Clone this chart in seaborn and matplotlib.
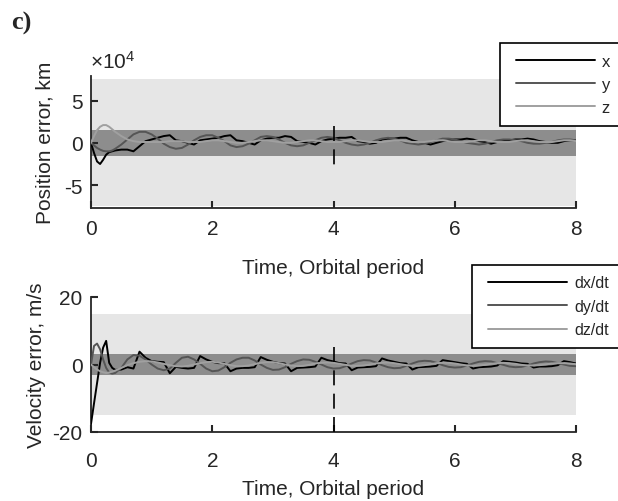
import numpy as np
import pandas as pd
import matplotlib
matplotlib.use("Agg")
import matplotlib.pyplot as plt
from matplotlib.ticker import FuncFormatter
from matplotlib.lines import Line2D
from matplotlib.legend_handler import HandlerLine2D
import seaborn as sns

# ---------------- data ----------------
times = [0.0, 0.05, 0.1, 0.15, 0.2, 0.25, 0.3, 0.35, 0.4,
         0.5, 0.6, 0.7, 0.8, 0.9, 1.0, 1.1, 1.2, 1.3, 1.4,
         1.5, 1.6, 1.7, 1.8, 1.9, 2.0, 2.1, 2.2, 2.3, 2.4,
         2.5, 2.6, 2.7, 2.8, 2.9, 3.0, 3.1, 3.2, 3.3, 3.4,
         3.5, 3.6, 3.7, 3.8, 3.9, 4.0, 4.1, 4.2, 4.3, 4.4,
         4.5, 4.6, 4.7, 4.8, 4.9, 5.0, 5.1, 5.2, 5.3, 5.4,
         5.5, 5.6, 5.7, 5.8, 5.9, 6.0, 6.1, 6.2, 6.3, 6.4,
         6.5, 6.6, 6.7, 6.8, 6.9, 7.0, 7.1, 7.2, 7.3, 7.4,
         7.5, 7.6, 7.7, 7.8, 7.9, 8.0]

# position errors, in units of 1e4 km
pos_x = [0.0, -1.2, -2.2, -2.5, -2.0, -1.4, -1.1, -1.0, -0.9,
         -0.8, -0.8, -1.0, -0.4, 0.2, 0.4, 0.6, 0.8, 0.9, 0.3,
         0.2, 0.0, -0.2, 0.3, 0.4, 0.5, 0.6, 0.8, 0.9, 0.3,
         0.2, 0.0, -0.2, 0.3, 0.5, 0.6, 0.6, 0.8, 0.7, 0.2,
         0.1, 0.0, -0.2, 0.2, 0.4, 0.5, 0.6, 0.6, 0.7, 0.2,
         0.1, -0.1, 0.0, 0.4, 0.5, 0.5, 0.6, 0.6, 0.3, 0.1,
         0.0, -0.2, 0.0, 0.2, 0.3, 0.4, 0.4, 0.5, 0.4, 0.2,
         0.1, -0.1, 0.1, 0.2, 0.3, 0.4, 0.4, 0.5, 0.4, 0.2,
         0.1, 0.0, 0.0, 0.2, 0.3, 0.3]
pos_y = [0.0, -0.3, -0.6, -0.8, -0.95, -1.0, -1.0, -0.9, -0.7,
         -0.2, 0.4, 1.0, 1.3, 1.3, 1.0, 0.5, -0.1, -0.5, -0.7,
         -0.6, -0.2, 0.3, 0.7, 0.9, 0.9, 0.6, 0.2, -0.3, -0.5,
         -0.4, -0.1, 0.3, 0.7, 0.8, 0.7, 0.4, 0.0, -0.3, -0.4,
         -0.3, 0.0, 0.3, 0.6, 0.7, 0.6, 0.3, 0.0, -0.2, -0.3,
         -0.2, 0.0, 0.3, 0.5, 0.6, 0.5, 0.3, 0.0, -0.1, -0.2,
         -0.1, 0.1, 0.3, 0.5, 0.5, 0.4, 0.2, 0.0, -0.1, -0.2,
         -0.1, 0.1, 0.3, 0.4, 0.4, 0.3, 0.2, 0.0, -0.1, -0.1,
         0.0, 0.1, 0.3, 0.4, 0.4, 0.3]
pos_z = [0.0, 0.8, 1.5, 1.9, 2.1, 2.1, 1.9, 1.6, 1.3,
         0.8, 0.4, 0.2, 0.1, 0.1, 0.1, 0.1, 0.1, 0.2, 0.2,
         0.2, 0.1, 0.1, 0.1, 0.2, 0.3, 0.3, 0.2, 0.1, 0.0,
         0.0, 0.1, 0.2, 0.3, 0.3, 0.2, 0.1, 0.0, 0.0, 0.1,
         0.2, 0.3, 0.3, 0.2, 0.1, 0.1, 0.1, 0.2, 0.3, 0.3,
         0.2, 0.1, 0.1, 0.1, 0.2, 0.3, 0.3, 0.2, 0.1, 0.1,
         0.1, 0.2, 0.3, 0.3, 0.2, 0.1, 0.1, 0.1, 0.2, 0.3,
         0.3, 0.2, 0.1, 0.1, 0.1, 0.2, 0.3, 0.3, 0.2, 0.1,
         0.1, 0.1, 0.2, 0.3, 0.3, 0.2]

# velocity errors, m/s
vel_x = [-17.6, -11.5, -5.5, 0.5, 5.0, 7.0, 0.5, -1.0, -1.6,
         -1.5, -0.8, -1.2, 3.8, 2.0, 1.0, 0.8, 0.7, -2.6, -0.7,
         -1.0, -1.2, -1.0, 2.5, 1.5, 0.8, 0.4, 0.4, -2.0, -1.2,
         -1.0, -1.0, -0.8, 2.2, 1.4, 0.8, 0.4, 0.3, -2.0, -1.0,
         -0.9, -0.8, -0.6, 2.0, 1.3, 0.9, 0.4, 0.3, -1.7, -0.9,
         -0.8, -0.7, -0.5, 1.8, 1.2, 0.8, 0.4, 0.3, -1.5, -0.8,
         -0.7, -0.6, -0.4, 1.3, 1.0, 0.7, 0.4, 0.2, -1.2, -0.8,
         -0.7, -0.6, -0.3, 1.0, 0.8, 0.6, 0.3, 0.2, -0.9, -0.6,
         -0.6, -0.5, -0.2, 1.0, 0.7, 0.3]
vel_y = [0.0, 5.5, 6.2, 4.5, 1.5, -1.0, -2.4, -2.7, -2.5,
         -1.0, 1.5, 2.8, 2.6, 1.5, 0.0, -1.2, -1.7, -1.2, 0.5,
         2.0, 2.3, 1.5, 0.2, -1.2, -2.0, -1.8, -0.8, 0.5, 1.5,
         2.0, 2.0, 1.2, 0.0, -1.0, -1.6, -1.5, -0.8, 0.2, 1.0,
         1.5, 1.4, 0.8, 0.0, -0.8, -1.2, -1.1, -0.5, 0.3, 1.0,
         1.3, 1.2, 0.6, -0.2, -0.8, -1.1, -1.0, -0.4, 0.3, 0.9,
         1.1, 1.0, 0.5, -0.2, -0.7, -0.9, -0.8, -0.3, 0.3, 0.8,
         1.0, 0.9, 0.4, -0.1, -0.6, -0.8, -0.7, -0.3, 0.3, 0.7,
         0.9, 0.8, 0.4, 0.0, -0.4, -0.5]
vel_z = [0.0, -0.8, -1.5, -2.0, -2.3, -2.5, -2.4, -2.1, -1.8,
         -1.0, -0.2, 0.4, 0.8, 1.0, 0.9, 0.6, 0.2, -0.2, -0.5,
         -0.6, -0.4, 0.0, 0.4, 0.7, 0.8, 0.6, 0.2, -0.2, -0.5,
         -0.5, -0.3, 0.1, 0.5, 0.7, 0.7, 0.4, 0.0, -0.3, -0.5,
         -0.4, -0.1, 0.3, 0.5, 0.6, 0.5, 0.2, -0.1, -0.4, -0.4,
         -0.3, 0.0, 0.3, 0.5, 0.6, 0.4, 0.1, -0.2, -0.4, -0.4,
         -0.2, 0.1, 0.4, 0.5, 0.5, 0.3, 0.0, -0.3, -0.4, -0.3,
         -0.1, 0.2, 0.4, 0.5, 0.4, 0.2, -0.1, -0.3, -0.3, -0.2,
         0.0, 0.3, 0.4, 0.4, 0.3, 0.1]

pos_labels = ["x", "y", "z"]
vel_labels = ["dx/dt", "dy/dt", "dz/dt"]
pos_scale = 1e4

# bounds (outer / inner bands) and marker line
pos_outer = 7.5e4
pos_inner = 1.5e4
vel_outer = 15
vel_inner = 3
marker_time = 4
pos_marker_span = [2.0e4, -2.6e4]
vel_marker_span = [-20, 7.2]

# ---------------- style ----------------
sns.set_style("ticks")
plt.rcParams["font.family"] = ["Liberation Sans", "DejaVu Sans"]
plt.rcParams["axes.unicode_minus"] = False
plt.rcParams["mathtext.fontset"] = "custom"
plt.rcParams["mathtext.rm"] = "Liberation Sans"
plt.rcParams["mathtext.it"] = "Liberation Sans"

FS = 15
line_colors = ["#000000", "#555555", "#a0a0a0"]
light_band = "#e6e6e6"
dark_band = "#8d8d8d"
axis_color = "#262626"

n = len(times)
pos_df = pd.DataFrame({
    "t": times * 3,
    "v": [v * pos_scale for v in pos_x + pos_y + pos_z],
    "s": [pos_labels[0]] * n + [pos_labels[1]] * n + [pos_labels[2]] * n,
})
vel_df = pd.DataFrame({
    "t": times * 3,
    "v": vel_x + vel_y + vel_z,
    "s": [vel_labels[0]] * n + [vel_labels[1]] * n + [vel_labels[2]] * n,
})

fig = plt.figure(figsize=(6.18, 5.02), dpi=100)
ax1 = fig.add_axes([91 / 618, 1 - 209 / 502, 485 / 618, 132 / 502])
ax2 = fig.add_axes([91 / 618, 1 - 433 / 502, 485 / 618, 135 / 502])


def style_axis(ax, xpad):
    ax.set_xlim(0, 8)
    ax.set_xticks([0, 2, 4, 6, 8])
    sns.despine(ax=ax)
    for sp in ["left", "bottom"]:
        ax.spines[sp].set_linewidth(1.3)
        ax.spines[sp].set_color(axis_color)
    ax.tick_params(direction="in", length=5, width=1.5, colors=axis_color,
                   labelcolor="#262626", labelsize=FS)
    ax.tick_params(axis="x", pad=xpad)
    ax.tick_params(axis="y", pad=6)
    ax.set_facecolor("white")


# ---- top panel ----
ax1.axhspan(-pos_outer, pos_outer, color=light_band, lw=0, zorder=0)
ax1.axhspan(-pos_inner, pos_inner, color=dark_band, lw=0, zorder=0.5)
sns.lineplot(data=pos_df, x="t", y="v", hue="s", palette=line_colors,
             hue_order=pos_labels, ax=ax1, lw=1.4, legend=False, sort=False, zorder=3)
ax1.plot([marker_time, marker_time], pos_marker_span, color="black",
         lw=1.2, dashes=(9, 5), zorder=4)
ax1.set_ylim(-7.7e4, 7.9e4)
ax1.set_yticks([-5e4, 0, 5e4])
ax1.yaxis.set_major_formatter(FuncFormatter(lambda v, p: "%g" % (v / pos_scale)))
style_axis(ax1, 8)
ax1.annotate(r"$\times10^{4}$", xy=(0, 1), xycoords="axes fraction",
             xytext=(-1, 3), textcoords="offset points", ha="left", va="bottom",
             fontsize=FS, color="#262626")
ax1.set_xlabel("Time, Orbital period", fontsize=FS, labelpad=14, color="#262626")
ax1.set_ylabel("Position error, km", fontsize=FS, labelpad=7, color="#262626")

# ---- bottom panel ----
ax2.axhspan(-vel_outer, vel_outer, color=light_band, lw=0, zorder=0)
ax2.axhspan(-vel_inner, vel_inner, color=dark_band, lw=0, zorder=0.5)
sns.lineplot(data=vel_df, x="t", y="v", hue="s", palette=line_colors,
             hue_order=vel_labels, ax=ax2, lw=1.4, legend=False, sort=False, zorder=3)
ax2.plot([marker_time, marker_time], vel_marker_span, color="black",
         lw=1.2, dashes=(9, 5), zorder=4)
ax2.set_ylim(-20, 20)
ax2.set_yticks([-20, 0, 20])
style_axis(ax2, 14)
ax2.set_xlabel("Time, Orbital period", fontsize=FS, labelpad=6, color="#262626")
ax2.set_ylabel("Velocity error, m/s", fontsize=FS, labelpad=5, color="#262626")

# ---- legends (boxes run past the right edge, as in the source) ----
bh = 0.01
h1 = [Line2D([], [], color=c, lw=1.4) for c in line_colors]
leg1 = fig.legend(h1, pos_labels, loc="upper left",
                  bbox_to_anchor=(500 / 618, 1 - 44 / 502 - bh, 140 / 618, bh),
                  mode="expand",
                  bbox_transform=fig.transFigure, borderaxespad=0, fontsize=12,
                  handlelength=5.03, handletextpad=0.42, labelspacing=0.48,
                  borderpad=0.65, fancybox=False, framealpha=1, edgecolor="black",
                  handler_map={Line2D: HandlerLine2D(xpad=0.3)})
leg1.get_frame().set_linewidth(1.2)
h2 = [Line2D([], [], color=c, lw=1.4) for c in line_colors]
leg2 = fig.legend(h2, vel_labels, loc="upper left",
                  bbox_to_anchor=(472 / 618, 1 - 266 / 502 - bh, 170 / 618, bh),
                  mode="expand",
                  bbox_transform=fig.transFigure, borderaxespad=0, fontsize=11.5,
                  handlelength=5.3, handletextpad=0.45, labelspacing=0.53,
                  borderpad=0.65, fancybox=False, framealpha=1, edgecolor="black",
                  handler_map={Line2D: HandlerLine2D(xpad=0.35)})
leg2.get_frame().set_linewidth(1.2)

fig.text(11 / 618, 1 - 30 / 502, "c)", fontsize=19, fontweight="bold",
         family=["Liberation Serif", "DejaVu Serif"], ha="left", va="baseline")

fig.savefig("out.png", dpi=100)
